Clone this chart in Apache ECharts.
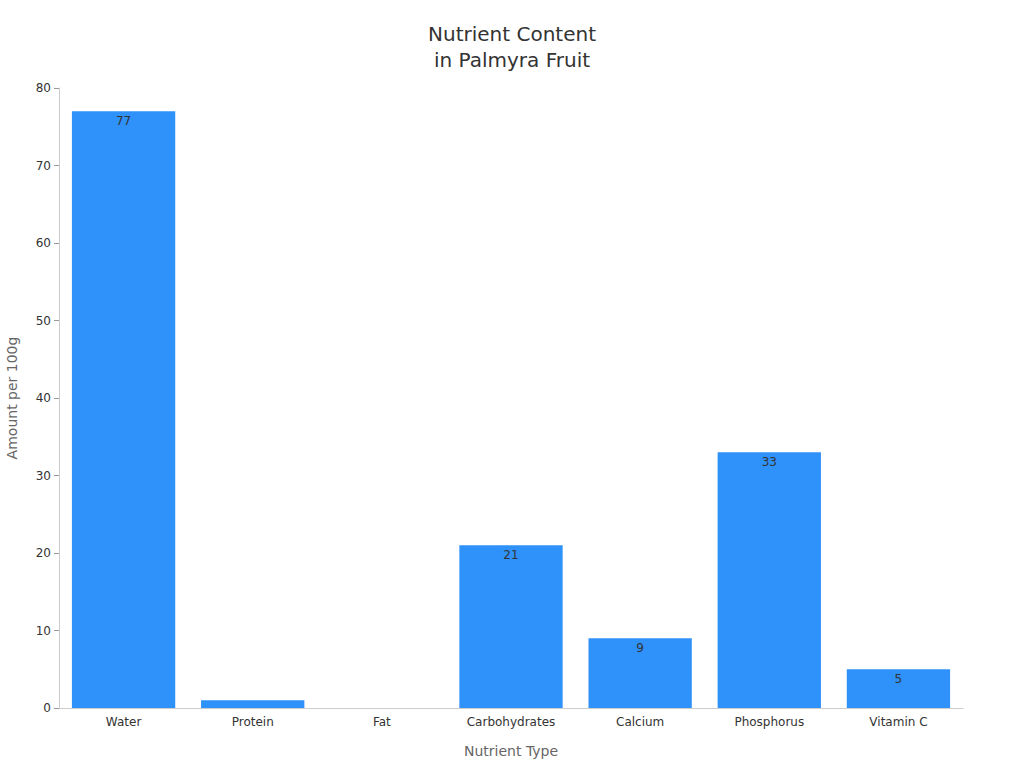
<!DOCTYPE html>
<html>
<head>
<meta charset="utf-8">
<script src="https://cdn.jsdelivr.net/npm/echarts@6/dist/echarts.min.js"></script>
<style>
  html, body { margin: 0; padding: 0; background: #fff; }
  #chart { width: 1024px; height: 768px; }
</style>
</head>
<body>
<div id="chart"></div>
<script>
// Nutrient content per 100g
const categories = ['Water', 'Protein', 'Fat', 'Carbohydrates', 'Calcium', 'Phosphorus', 'Vitamin C'];
const amounts = [77, 1, 0, 21, 9, 33, 5];

const FONT = "'DejaVu Sans', sans-serif";

const chart = echarts.init(document.getElementById('chart'), null, { renderer: 'svg' });

chart.setOption({
  animation: false,
  backgroundColor: '#ffffff',
  title: {
    text: 'Nutrient Content\nin Palmyra Fruit',
    left: 'center',
    top: 16,
    textStyle: { fontFamily: FONT, fontSize: 20, fontWeight: 'normal', color: '#333', lineHeight: 26 },
  },
  grid: { left: 59, right: 61, top: 88, bottom: 60, outerBoundsMode: 'none' },
  xAxis: {
    type: 'category',
    data: categories,
    name: 'Nutrient Type',
    nameLocation: 'middle',
    nameGap: 36,
    nameTextStyle: { fontFamily: FONT, fontSize: 14, color: '#666' },
    axisLine: { lineStyle: { color: '#ccc' } },
    axisTick: { alignWithLabel: true, lineStyle: { color: '#999' } },
    axisLabel: { fontFamily: FONT, fontSize: 12, color: '#333' },
  },
  yAxis: {
    type: 'value',
    min: 0,
    max: 80,
    interval: 10,
    name: 'Amount per 100g',
    nameLocation: 'middle',
    nameGap: 40,
    nameTextStyle: { fontFamily: FONT, fontSize: 14, color: '#666' },
    axisLine: { show: true, lineStyle: { color: '#ccc' } },
    axisTick: { show: true, lineStyle: { color: '#999' } },
    axisLabel: { fontFamily: FONT, fontSize: 12, color: '#333' },
    splitLine: { show: false },
  },
  series: [{
    type: 'bar',
    data: amounts,
    barWidth: '80%',
    itemStyle: { color: '#2f92fa' },
    label: {
      show: true,
      position: 'insideTop',
      distance: 4,
      fontFamily: FONT,
      fontSize: 12,
      color: '#333',
      formatter: p => (p.value >= 2 ? p.value : ''),
    },
  }],
});
</script>
</body>
</html>
